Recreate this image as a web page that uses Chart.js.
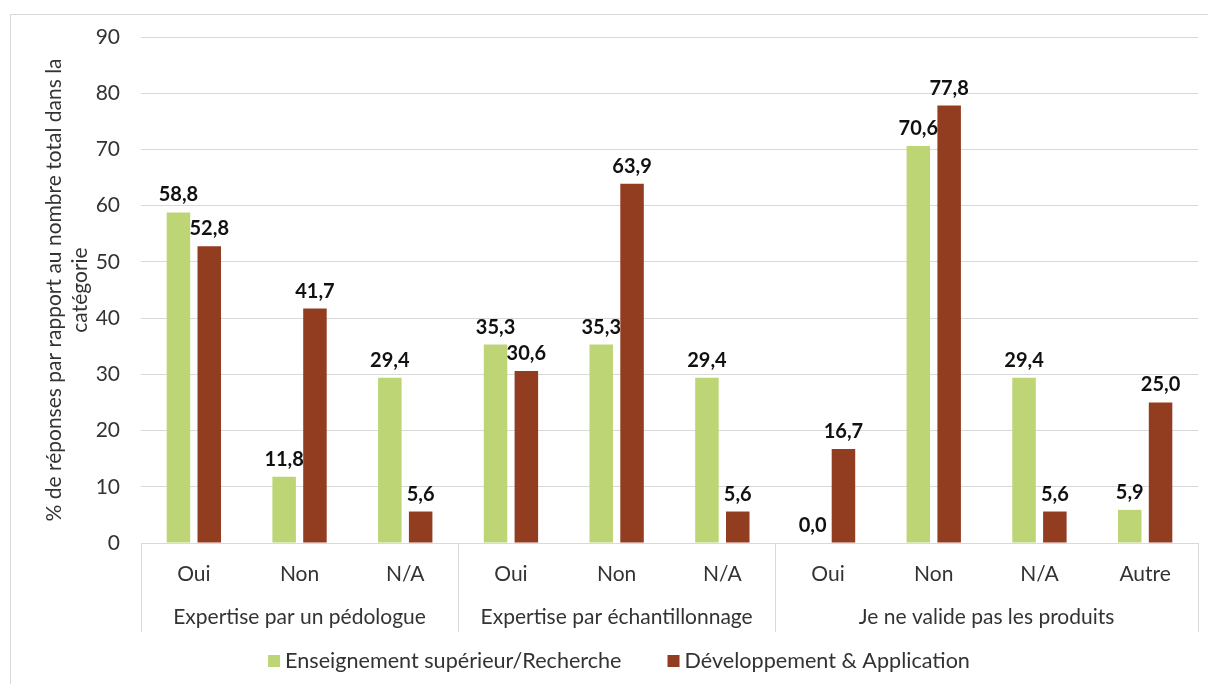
<!DOCTYPE html>
<html>
<head>
<meta charset="utf-8">
<script src="https://cdn.jsdelivr.net/npm/chart.js@4.4.1/dist/chart.umd.min.js"></script>
<style>
  body { margin: 0; background: #fff; overflow: hidden; }
  #frame { position: absolute; left: 10px; top: 14px; width: 1220px; height: 700px; border: 1px solid #d9d9d9; pointer-events: none; }
  canvas { position: absolute; left: 0; top: 0; }
</style>
</head>
<body>
<canvas id="chart" width="1208" height="684"></canvas>
<div id="frame"></div>
<script>
// categories (sub-level) and groups (top level of the x axis)
const categories = ["Oui", "Non", "N/A", "Oui", "Non", "N/A", "Oui", "Non", "N/A", "Autre"];
const groups = ["Expertise par un pédologue", "Expertise par échantillonnage", "Je ne valide pas les produits"];
const groupSizes = [3, 3, 4];

const seriesNames = ["Enseignement supérieur/Recherche", "Développement & Application"];
const enseignement = [58.8, 11.8, 29.4, 35.3, 35.3, 29.4, 0.0, 70.6, 29.4, 5.9];
const developpement = [52.8, 41.7, 5.6, 30.6, 63.9, 5.6, 16.7, 77.8, 5.6, 25.0];

const yTicks = [0, 10, 20, 30, 40, 50, 60, 70, 80, 90];
const yTitle = ["% de réponses par rapport au nombre total dans la", "catégorie"];

const green = "#bdd575";
const brown = "#933d20";
const gridColor = "#d9d9d9";
const textColor = "#333333";
const fontFamily = "Lato, 'Open Sans', sans-serif";

// value labels, multi-level x axis and legend
const extras = {
  id: "extras",
  afterDatasetsDraw(chart) {
    const ctx = chart.ctx;
    const area = chart.chartArea;
    const x = chart.scales.x;

    ctx.save();
    // value labels above bars
    ctx.font = "bold 20px " + fontFamily;
    ctx.fillStyle = "#111";
    ctx.textAlign = "center";
    ctx.textBaseline = "alphabetic";
    chart.data.datasets.forEach((ds, i) => {
      chart.getDatasetMeta(i).data.forEach((bar, j) => {
        ctx.fillText(ds.data[j].toFixed(1).replace(".", ","), bar.x, bar.y - 11);
      });
    });

    // group separators and group labels
    const w = x.getPixelForValue(1) - x.getPixelForValue(0);
    const edge = (k) => x.getPixelForValue(0) - w / 2 + k * w;
    ctx.strokeStyle = gridColor;
    ctx.lineWidth = 1;
    let k = 0;
    const bounds = [0];
    groupSizes.forEach((n) => { k += n; bounds.push(k); });
    bounds.forEach((b) => {
      const px = Math.round(edge(b)) + 0.5;
      ctx.beginPath();
      ctx.moveTo(px, area.bottom);
      ctx.lineTo(px, area.bottom + 89);
      ctx.stroke();
    });
    ctx.font = "21px " + fontFamily;
    ctx.fillStyle = textColor;
    ctx.textBaseline = "middle";
    groups.forEach((g, i) => {
      ctx.fillText(g, (edge(bounds[i]) + edge(bounds[i + 1])) / 2, area.bottom + 74);
    });

    // legend
    ctx.font = "21.6px " + fontFamily;
    const box = 12, gap = 5, spacing = 46;
    const widths = seriesNames.map((s) => ctx.measureText(s).width);
    const total = widths.reduce((a, b) => a + b, 0) + seriesNames.length * (box + gap) + spacing * (seriesNames.length - 1);
    let lx = chart.width / 2 + 15 - total / 2;
    const ly = 661;
    ctx.textAlign = "left";
    chart.data.datasets.forEach((ds, i) => {
      ctx.fillStyle = ds.backgroundColor;
      ctx.fillRect(lx, ly - box / 2, box, box);
      ctx.fillStyle = textColor;
      ctx.fillText(ds.label, lx + box + gap, ly);
      lx += box + gap + widths[i] + spacing;
    });
    ctx.restore();
  }
};

new Chart(document.getElementById("chart"), {
  type: "bar",
  data: {
    labels: categories,
    datasets: [
      { label: seriesNames[0], data: enseignement, backgroundColor: green },
      { label: seriesNames[1], data: developpement, backgroundColor: brown }
    ]
  },
  options: {
    responsive: false,
    animation: false,
    categoryPercentage: 0.583,
    barPercentage: 0.763,
    layout: { padding: { left: 0, top: 37, right: 10, bottom: 61 } },
    plugins: {
      legend: { display: false },
      tooltip: { enabled: false }
    },
    scales: {
      x: {
        afterFit: (s) => { s.height = 80; },
        grid: { display: false },
        border: { display: true, color: gridColor },
        ticks: { color: textColor, font: { family: fontFamily, size: 21 }, padding: 11, maxRotation: 0 }
      },
      y: {
        min: 0,
        max: 90,
        afterFit: (s) => { s.width = 141; },
        afterBuildTicks: (s) => { s.ticks = yTicks.map((v) => ({ value: v })); },
        grid: { color: gridColor, drawTicks: false },
        border: { display: false },
        ticks: { color: textColor, font: { family: fontFamily, size: 21 }, padding: 21 },
        title: {
          display: true,
          text: yTitle,
          color: textColor,
          font: { family: fontFamily, size: 21 },
          padding: { top: 42, bottom: 0 }
        }
      }
    }
  },
  plugins: [extras]
});
</script>
</body>
</html>
